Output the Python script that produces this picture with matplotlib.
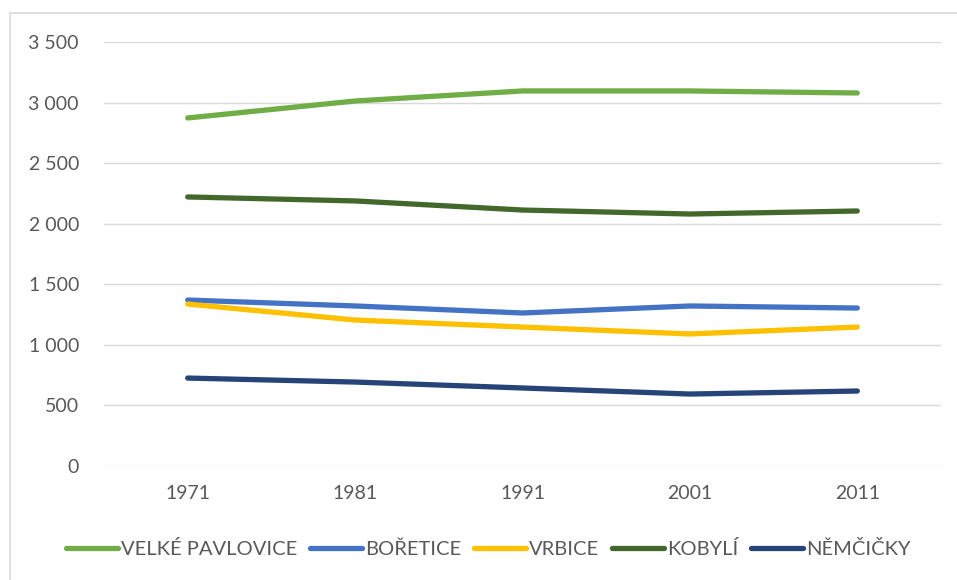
import matplotlib

matplotlib.use("Agg")
import matplotlib.pyplot as plt
from matplotlib.patches import Rectangle
from matplotlib.ticker import FuncFormatter, MultipleLocator

plt.rcParams["font.family"] = ["Lato", "DejaVu Sans"]

years = ["1971", "1981", "1991", "2001", "2011"]
velke_pavlovice = [2873, 3013, 3096, 3096, 3079]
boretice = [1370, 1321, 1263, 1321, 1304]
vrbice = [1337, 1205, 1147, 1090, 1147]
kobyli = [2221, 2188, 2113, 2080, 2105]
nemcicky = [726, 693, 644, 594, 619]

series = [
    ("VELKÉ PAVLOVICE", velke_pavlovice, "#70AD47"),
    ("BOŘETICE", boretice, "#4472C4"),
    ("VRBICE", vrbice, "#FFC000"),
    ("KOBYLÍ", kobyli, "#43682B"),
    ("NĚMČIČKY", nemcicky, "#264478"),
]

TXT = "#595959"

fig = plt.figure(figsize=(9.57, 5.8), dpi=100)
ax = fig.add_axes([104 / 957, 1 - 466 / 580, 837 / 957, 424 / 580])

# rámeček grafu (vlevo a nahoře viditelný)
fig.patches.append(Rectangle((10 / 957, -0.1), 1.2, 1 - 13 / 580 + 0.1,
                             transform=fig.transFigure, fill=False,
                             edgecolor="#D9D9D9", linewidth=1.2))

x = range(len(years))
for name, vals, col in series:
    ax.plot(x, vals, color=col, lw=3.8, label=name,
            solid_capstyle="round", solid_joinstyle="round")

ax.set_xlim(-0.5, len(years) - 0.5)
ax.set_ylim(0, 3500)
ax.yaxis.set_major_locator(MultipleLocator(500))
ax.yaxis.set_major_formatter(FuncFormatter(lambda v, _: f"{int(v):,}".replace(",", " ")))
ax.set_xticks(list(x))
ax.set_xticklabels(years)
ax.grid(axis="y", color="#D9D9D9", lw=1)
ax.set_axisbelow(True)
for s in ax.spines.values():
    s.set_visible(False)
ax.tick_params(length=0, colors=TXT, labelsize=14)
ax.tick_params(axis="y", pad=18)
ax.tick_params(axis="x", pad=14)

ax.legend(loc="center", bbox_to_anchor=(0.51, 1 - 549 / 580), bbox_transform=fig.transFigure,
          ncol=5, frameon=False, fontsize=14.5, labelcolor=TXT,
          handlelength=2.6, handletextpad=0.15, columnspacing=0.62)

fig.savefig("out.png", dpi=100)
